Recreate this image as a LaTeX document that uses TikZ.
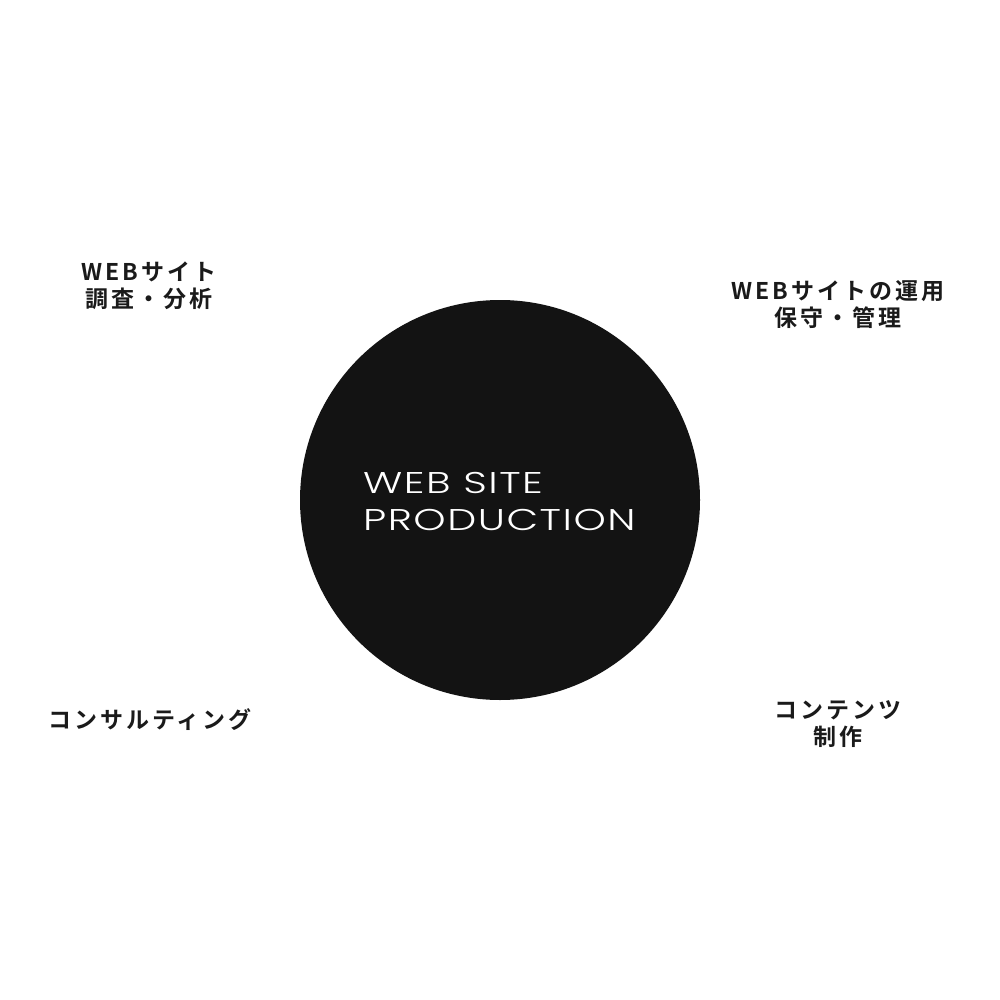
\documentclass[tikz,border=0pt]{standalone}
\usepackage{fontspec}
\newfontfamily\cjk[BoldFont={Noto Sans CJK JP Bold},LetterSpace=13]{Noto Sans CJK JP}
\newfontfamily\wide[FakeStretch=1.37,LetterSpace=5]{Poppins Light}
\definecolor{disc}{HTML}{131313}
\definecolor{ink}{HTML}{1A1A1A}
\tikzset{
  lbl/.style={font=\cjk\bfseries\fontsize{23}{27}\selectfont, text=ink, align=center, inner sep=0pt},
}
\begin{document}
\begin{tikzpicture}[x=1pt,y=-1pt]
\useasboundingbox (0,0) rectangle (1000,1000);
\fill[white] (0,0) rectangle (1000,1000);
\node[circle, fill=disc, minimum size=400pt, inner sep=0pt] (hub) at (500,500) {};
\node[font=\wide\fontsize{30}{37}\selectfont, text=white, align=left, anchor=west, inner sep=0pt] (title) at (363,501) {WEB SITE\\PRODUCTION};
\node[lbl] (a) at (149,286) {WEBサイト\\調査・分析};
\node[lbl] (b) at (838,305) {WEBサイトの運用\\保守・管理};
\node[lbl] (c) at (150,720) {コンサルティング};
\node[lbl] (d) at (838,724) {コンテンツ\\制作};
\end{tikzpicture}
\end{document}
